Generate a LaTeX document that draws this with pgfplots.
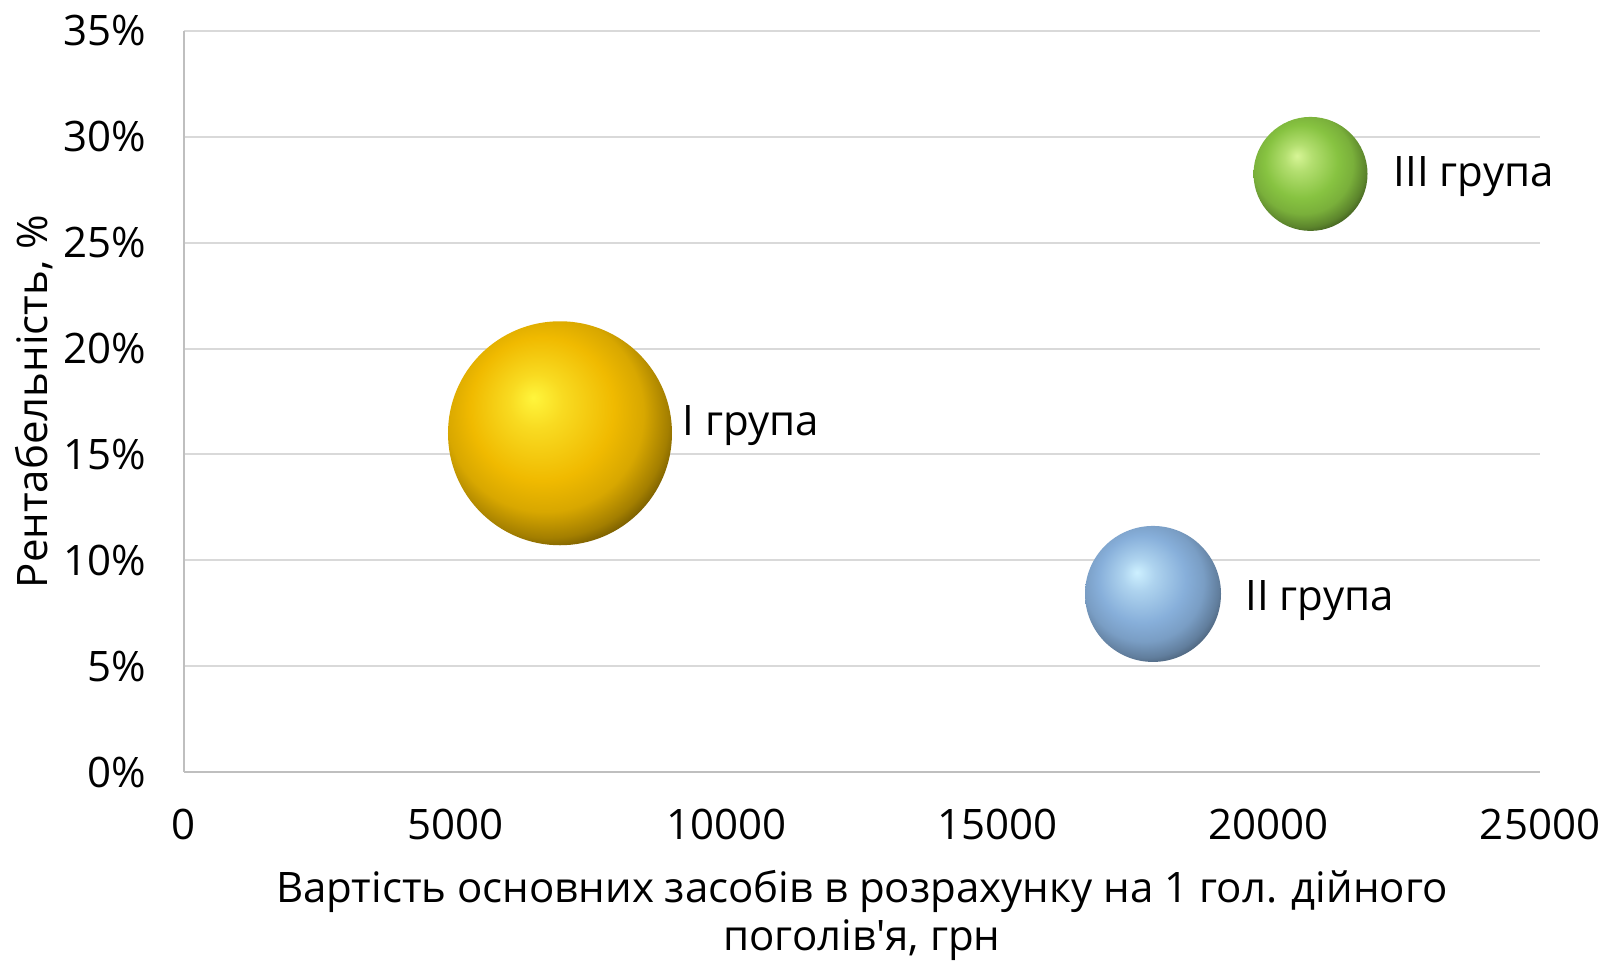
\documentclass[border=0pt]{standalone}
\usepackage{fontspec}
\setmainfont{Open Sans}
\newfontface\aposfont{Open Sans}[Ligatures=TeXOff]
\usepackage{pgfplots}
\pgfplotsset{compat=1.18}

\definecolor{goldc}{RGB}{240,186,0}
\definecolor{goldhl}{RGB}{255,245,60}
\definecolor{bluec}{RGB}{135,175,218}
\definecolor{bluehl}{RGB}{205,240,255}
\definecolor{greenc}{RGB}{135,195,65}
\definecolor{greenhl}{RGB}{215,245,150}
\definecolor{gridc}{RGB}{217,217,217}
\definecolor{axisc}{RGB}{191,191,191}

\pgfdeclareradialshading{goldball}{\pgfpoint{-6bp}{8bp}}{color(0bp)=(goldhl); color(6bp)=(goldhl!55!goldc); color(16bp)=(goldc); color(22bp)=(goldc!90!black); color(27bp)=(goldc!68!black); color(31bp)=(goldc!38!black); color(35bp)=(goldc!16!black); color(50bp)=(black)}
\pgfdeclareradialshading{blueball}{\pgfpoint{-6bp}{8bp}}{color(0bp)=(bluehl); color(6bp)=(bluehl!55!bluec); color(16bp)=(bluec); color(22bp)=(bluec!90!black); color(27bp)=(bluec!72!black); color(31bp)=(bluec!48!black); color(35bp)=(bluec!26!black); color(50bp)=(black)}
\pgfdeclareradialshading{greenball}{\pgfpoint{-6bp}{8bp}}{color(0bp)=(greenhl); color(6bp)=(greenhl!55!greenc); color(16bp)=(greenc); color(22bp)=(greenc!90!black); color(27bp)=(greenc!68!black); color(31bp)=(greenc!38!black); color(35bp)=(greenc!16!black); color(50bp)=(black)}

\pgfdeclareplotmark{goldball}{\shade[draw=none,shading=goldball] (0pt,0pt) circle[radius=\pgfplotmarksize];}
\pgfdeclareplotmark{blueball}{\shade[draw=none,shading=blueball] (0pt,0pt) circle[radius=\pgfplotmarksize];}
\pgfdeclareplotmark{greenball}{\shade[draw=none,shading=greenball] (0pt,0pt) circle[radius=\pgfplotmarksize];}

\begin{document}
\begin{tikzpicture}
\useasboundingbox (-55.2pt,-56.7pt) rectangle (426pt,231.6pt);
\begin{axis}[
  at={(0pt,0pt)}, anchor=south west,
  scale only axis,
  width=406.8pt, height=222.3pt,
  xmin=0, xmax=25000, ymin=0, ymax=35,
  xtick={0,5000,...,25000},
  ytick={0,5,...,35},
  scaled ticks=false,
  axis x line*=bottom, axis y line*=left,
  axis line style={draw=axisc, line width=0.6pt},
  major tick length=0pt,
  ymajorgrids,
  grid style={draw=gridc, line width=0.6pt},
  font=\fontsize{12.6}{14.4}\selectfont,
  /pgf/number format/assume math mode=true,
  /pgf/number format/1000 sep={},
  xticklabel={\pgfmathprintnumber[fixed,precision=0]{\tick}},
  yticklabel={\pgfmathprintnumber{\tick}\%},
  xticklabel style={yshift=-7.5pt},
  yticklabel style={xshift=-7.8pt},
  xlabel={Вартість основних засобів в розрахунку на 1 гол. дійного\\поголів{\aposfont\symbol{39}}я, грн},
  xlabel style={at={(axis description cs:0.5,0)}, anchor=north, yshift=-26pt, align=center, font=\fontsize{12.6}{14.4}\selectfont},
  ylabel={Рентабельність, \%},
  ylabel style={at={(axis description cs:-0.1106,0.5)}, anchor=center, font=\fontsize{12.6}{14.4}\selectfont},
  clip=false,
]
\addplot[only marks, mark=goldball, mark size=33.6pt,
  nodes near coords={I група},
  every node near coord/.append style={anchor=base west, inner sep=0pt, xshift=36.6pt, yshift=-0.6pt, font=\fontsize{12.6}{14.4}\selectfont}]
  coordinates {(6932,16.0)};
\addplot[only marks, mark=blueball, mark size=20.4pt,
  nodes near coords={II група},
  every node near coord/.append style={anchor=base west, inner sep=0pt, xshift=27.6pt, yshift=-5.1pt, font=\fontsize{12.6}{14.4}\selectfont}]
  coordinates {(17865,8.41)};
\addplot[only marks, mark=greenball, mark size=17.1pt,
  nodes near coords={III група},
  every node near coord/.append style={anchor=base west, inner sep=0pt, xshift=24.75pt, yshift=-3.9pt, font=\fontsize{12.6}{14.4}\selectfont}]
  coordinates {(20769,28.25)};
\end{axis}
\end{tikzpicture}
\end{document}
